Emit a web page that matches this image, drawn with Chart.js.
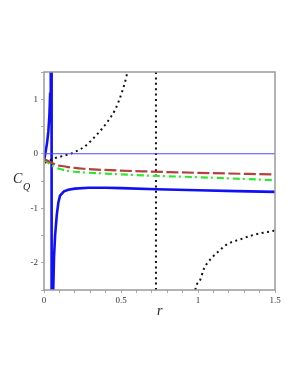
<!DOCTYPE html>
<html>
<head>
<meta charset="utf-8">
<script src="https://cdn.jsdelivr.net/npm/chart.js@4/dist/chart.umd.min.js"></script>
<style>
    html, body { margin: 0; padding: 0; background: #fff; }
    canvas { display: block; }
</style>
</head>
<body>
<canvas id="myChart" width="300" height="388"></canvas>
<script>
/* ===============================
   DATA
=============================== */
const xLabelValues = [0, 0.5, 1, 1.5];
const yLabelValues = [-2, -1, 0, 1];

// thick blue solid curve (left branch, jump, right branch)
const blueR  = [0, 0.008, 0.013, 0.02, 0.028, 0.035, 0.04, 0.044, 0.049, 0.0495, 0.06, 0.065, 0.072, 0.083, 0.093, 0.104, 0.13, 0.158, 0.2, 0.29, 0.4, 0.5, 0.73, 1.0, 1.25, 1.5];
const blueCQ = [-0.13, 0, 0.08, 0.2, 0.4, 0.7, 1.1, 1.6, 4, -4, -2.5, -1.9, -1.5, -1.12, -0.9, -0.77, -0.69, -0.66, -0.64, -0.625, -0.625, -0.63, -0.65, -0.67, -0.685, -0.7];

// black dotted curve, two branches
const dotLeftR   = [0.0065, 0.04, 0.072, 0.104, 0.137, 0.17, 0.2, 0.234, 0.267, 0.343, 0.408, 0.462, 0.505, 0.538, 0.56];
const dotLeftCQ  = [-0.165, -0.12, -0.08, -0.055, -0.028, -0.005, 0.035, 0.08, 0.14, 0.35, 0.57, 0.81, 1.12, 1.455, 1.8];
const dotRightR  = [0.97, 0.983, 1.015, 1.037, 1.08, 1.134, 1.19, 1.275, 1.36, 1.48, 1.5];
const dotRightCQ = [-2.8, -2.49, -2.31, -2.12, -1.94, -1.79, -1.66, -1.57, -1.49, -1.42, -1.41];

// dotted vertical asymptote
const asymR = 0.727;

// brown dashed curve
const brownR  = [0, 0.028, 0.06, 0.093, 0.115, 0.148, 0.2, 0.256, 0.375, 0.668, 1.0, 1.5];
const brownCQ = [-0.1, -0.135, -0.18, -0.215, -0.225, -0.24, -0.26, -0.275, -0.295, -0.325, -0.35, -0.38];

// green dash-dot curve
const greenR  = [0, 0.028, 0.06, 0.093, 0.148, 0.2, 0.375, 0.668, 1.0, 1.5];
const greenCQ = [-0.105, -0.165, -0.23, -0.27, -0.31, -0.33, -0.36, -0.4, -0.43, -0.485];

const xMin = 0, xMax = 1.5;
const yMin = -2.5, yMax = 1.5;

/* ===============================
   HELPERS
=============================== */
function toPoints(xs, ys) {
    return xs.map((x, i) => ({ x: x, y: ys[i] }));
}

function isLabel(v, list) {
    return list.some(l => Math.abs(l - v) < 1e-6);
}

const dottedData = toPoints(dotLeftR, dotLeftCQ)
    .concat([{ x: 0.75, y: null }])
    .concat(toPoints(dotRightR, dotRightCQ));

/* ===============================
   FRAME + TITLES
=============================== */
const framePlugin = {
    id: "frame",
    afterDraw(chart) {
        const c = chart.ctx;
        const a = chart.chartArea;
        c.save();
        c.strokeStyle = "#9a9a9a";
        c.lineWidth = 1.5;
        c.strokeRect(a.left, a.top, a.right - a.left, a.bottom - a.top);

        c.fillStyle = "#222";
        c.textAlign = "left";
        c.textBaseline = "alphabetic";
        c.font = "italic 14px 'Liberation Serif'";
        c.fillText("C", 13, 183);
        c.font = "italic 10px 'Liberation Serif'";
        c.fillText("Q", 23, 190);
        c.font = "italic 14px 'Liberation Serif'";
        c.fillText("r", 157, 315);
        c.restore();
    }
};

/* ===============================
   CHART
=============================== */
const ctx = document.getElementById("myChart");

const myChart = new Chart(ctx, {
    type: "line",
    data: {
        datasets: [
            {
                data: [{ x: xMin, y: 0 }, { x: xMax, y: 0 }],
                borderColor: "#4a4aff",
                borderWidth: 1
            },
            {
                data: toPoints(brownR, brownCQ),
                borderColor: "#b5403f",
                borderWidth: 2.2,
                borderDash: [12, 3.5],
                cubicInterpolationMode: "monotone"
            },
            {
                data: toPoints(greenR, greenCQ),
                borderColor: "#2ee82e",
                borderWidth: 2.2,
                borderDash: [7, 3, 2, 4],
                cubicInterpolationMode: "monotone"
            },
            {
                data: dottedData,
                borderColor: "#111",
                borderWidth: 2,
                borderDash: [2, 3.5],
                spanGaps: false,
                cubicInterpolationMode: "monotone"
            },
            {
                data: [{ x: asymR, y: yMin }, { x: asymR, y: yMax }],
                borderColor: "#111",
                borderWidth: 2,
                borderDash: [2, 3.4]
            },
            {
                data: toPoints(blueR, blueCQ),
                borderColor: "#1010f5",
                borderWidth: 2.6
            }
        ]
    },
    options: {
        responsive: false,
        animation: false,
        parsing: false,
        clip: 0,
        layout: { padding: { left: 0, top: 72, right: 25, bottom: 0 } },
        elements: { point: { radius: 0 }, line: { tension: 0 } },
        plugins: { legend: { display: false }, tooltip: { enabled: false } },
        scales: {
            x: {
                type: "linear",
                min: xMin,
                max: xMax,
                afterFit(scale) { scale.height = 98; },
                border: { display: false },
                grid: { drawOnChartArea: false, drawTicks: true, tickLength: 3, color: "#aaa" },
                ticks: {
                    stepSize: 0.1,
                    autoSkip: false,
                    maxRotation: 0,
                    padding: 2,
                    color: "#333",
                    font: { family: "'Liberation Serif'", size: 9 },
                    callback: v => isLabel(v, xLabelValues) ? String(Math.round(v * 10) / 10) : ""
                }
            },
            y: {
                type: "linear",
                min: yMin,
                max: yMax,
                afterFit(scale) { scale.width = 44; },
                border: { display: false },
                grid: { drawOnChartArea: false, drawTicks: true, tickLength: 3, color: "#aaa" },
                ticks: {
                    stepSize: 0.5,
                    autoSkip: false,
                    padding: 3,
                    color: "#333",
                    font: { family: "'Liberation Serif'", size: 9 },
                    callback: v => isLabel(v, yLabelValues) ? String(Math.round(v)) : ""
                }
            }
        }
    },
    plugins: [framePlugin]
});
</script>
</body>
</html>
